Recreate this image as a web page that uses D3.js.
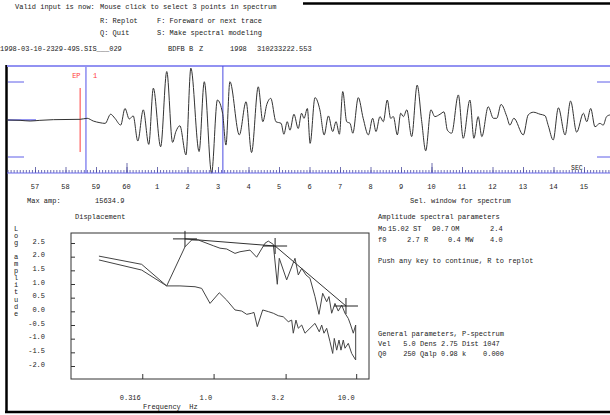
<!DOCTYPE html>
<html><head><meta charset="utf-8">
<script src="https://cdn.jsdelivr.net/npm/d3@7"></script>
<style>
html,body{margin:0;padding:0;background:#fff;}
svg{display:block;}
text{font-family:"Liberation Mono","DejaVu Sans Mono",monospace;font-size:7px;fill:#222;white-space:pre;}
</style></head><body>
<svg id="c" width="610" height="415"></svg>
<script>
// ---------------- data ----------------
const secondTimes  = [-3,-2,-1,0,1,2,3,4,5,6,7,8,9,10,11,12,13,14,15];
const secondLabels = ["57","58","59","60","1","2","3","4","5","6","7","8","9","10","11","12","13","14","15"];

const traceTime = [-3.93,-3.49,-3.16,-2.84,-2.40,-1.52,-1.29,-1.09,-0.87,-0.70,-0.52,-0.38,-0.19,-0.05,0.09,0.22,0.37,0.55,0.73,0.88,
 1.12,1.32,1.51,1.62,1.75,1.95,2.11,2.38,2.55,2.79,2.98,3.15,3.26,3.39,3.70,3.92,4.10,4.32,4.47,4.60,
 4.73,4.90,5.07,5.16,5.27,5.36,5.49,5.63,5.74,5.82,5.93,6.02,6.18,6.34,6.48,6.62,6.76,6.87,6.98,7.09,
 7.22,7.33,7.42,7.60,7.76,7.93,8.07,8.18,8.31,8.42,8.55,8.66,8.75,8.88,8.99,9.08,9.19,9.35,9.53,9.68,
 9.81,9.98,10.11,10.28,10.41,10.52,10.66,10.88,11.04,11.26,11.39,11.53,11.65,11.86,12.03,12.14,12.28,12.47,12.57,12.70,
 13.01,13.17,13.34,13.56,13.72,13.83,13.99,14.16,14.38,14.56,14.76,14.98,15.09,15.22,15.36,15.52,15.63,15.74,15.85];
// amplitude in thousands of counts
const traceAmp = [0,-0.1,-0.3,-0.1,0.1,0.2,0.5,-0.3,-0.8,-1.0,1.7,0.5,-1.5,3.4,0.3,1.2,-6.2,3.0,-7.2,9.4,
 -7.9,14.3,-6.6,-3.4,-1.7,-10.3,15.3,-9.3,11.3,-15.7,5.9,2.0,-7.4,11.3,-4.4,5.4,-9.6,9.8,-0.5,4.6,
 6.4,-0.5,-1.0,-4.2,-0.5,-3.0,1.7,-2.5,2.0,0.5,3.4,-6.9,6.6,3.0,-4.4,1.2,-3.4,-0.5,-4.2,8.4,
 -0.5,-1.0,-3.9,6.6,0.5,-4.4,0.5,-3.4,1.0,-0.5,5.9,0.5,1.0,-4.4,2.0,1.0,3.0,-4.9,10.3,-0.5,
 -9.1,3.0,1.0,1.7,2.4,-3.0,-3.9,7.4,-5.4,5.9,-5.4,1.0,-4.9,3.9,0.5,0.5,4.6,1.0,-1.5,0.5,
 -4.4,1.5,2.3,1.7,1.3,-1.7,-5.9,3.6,-4.4,5.6,-3.6,2.0,-0.5,3.4,-2.0,-1.0,-1.5,1.0,1.5];
const maxAmp = 15634.9;
const pickTime = -1.52, windowStart = -1.33, windowEnd = 3.16;

const freqTicks = [0.316, 1.0, 3.2, 10.0];
const freqTickLabels = ["0.316","1.0","3.2","10.0"];
const logAmpTicks = [2.5,2.0,1.5,1.0,0.5,0.0,-0.5,-1.0,-1.5,-2.0];
const logAmpTickLabels = ["2.5","2.0","1.5","1.0","0.5","0.0","-0.5","-1.0","-1.5","-2.0"];

const signalFreq = [0.157,0.313,0.469,0.630,0.702,0.781,0.995,1.109,1.236,1.413,1.531,1.800,2.005,2.293,2.418,2.623,2.797,2.888,3.255,3.723,
 3.926,4.148,4.446,4.742,5.142,5.484,5.822,6.210,6.446,6.732,7.101,7.491,7.913,8.347,8.803,9.150,9.544,9.920,9.920];
const signalLogAmp = [2.02,1.72,0.93,2.36,2.61,2.61,2.40,2.31,2.28,2.12,2.18,2.24,1.98,2.49,2.57,2.45,0.99,1.94,1.15,1.94,
 1.33,1.57,1.33,1.21,0.54,-0.11,0.66,0.35,0.54,-0.07,0.29,0.01,0.23,-0.07,-0.26,-0.50,-0.80,-0.50,-1.78];
const noiseFreq = [0.157,0.313,0.469,0.581,0.741,0.825,0.944,1.096,1.236,1.413,1.574,1.707,1.850,1.920,2.025,2.210,2.418,2.623,2.842,3.082,
 3.341,3.529,3.622,3.782,3.926,4.148,4.375,4.742,5.142,5.511,5.729,5.945,6.210,6.551,6.843,7.022,7.300,7.576,7.824,8.121,
 8.347,8.803,9.298,9.920];
const noiseLogAmp = [1.88,1.51,0.93,0.93,0.90,0.84,0.29,0.68,0.41,0.05,0.01,-0.11,-0.07,-0.04,-0.56,0.05,-0.01,-0.07,-0.16,-0.20,
 -0.38,-0.32,-0.80,-0.32,-0.62,-0.50,-0.80,-0.62,-0.44,-0.75,-0.50,-0.80,-0.62,-1.11,-1.54,-0.99,-1.42,-1.05,-1.42,-1.05,
 -1.35,-1.17,-1.54,-1.78];
const pickFreq = [0.63, 2.7, 8.48];
const pickLogAmp = [2.65, 2.39, 0.195];

// ---------------- drawing ----------------
const svg = d3.select("#c");
svg.append("rect").attr("width",610).attr("height",415).attr("fill","#fff");

function txt(x,y,s,opt={}){
  const t = svg.append("text").attr("x",x).attr("y",y).text(s);
  if(opt.anchor) t.attr("text-anchor",opt.anchor);
  if(opt.fill) t.style("fill",opt.fill);
  if(opt.size) t.style("font-size",opt.size+"px");
  return t;
}

// frame
svg.append("line").attr("x1",303).attr("x2",610).attr("y1",3.5).attr("y2",3.5).attr("stroke","#000").attr("stroke-width",2.5);
svg.append("line").attr("x1",6.5).attr("x2",6.5).attr("y1",65).attr("y2",413).attr("stroke","#000").attr("stroke-width",2.5);
svg.append("line").attr("x1",5).attr("x2",610).attr("y1",412).attr("y2",412).attr("stroke","#000").attr("stroke-width",2.5);

// header text
txt(15,9,"Valid input is now:");
txt(100,9,"Mouse click to select 3 points in spectrum");
txt(100,23,"R: Replot");  txt(157,23,"F: Foreward or next trace");
txt(100,35,"Q: Quit");    txt(157,35,"S: Make spectral modeling");
txt(0,51,"1998-03-10-2329-49S.SIS___029");
txt(168,51,"BDFB"); txt(189,51,"B"); txt(199,51,"Z");
txt(230,51,"1998"); txt(257,51,"310233222.553");

// ---- waveform panel ----
const xT = d3.scaleLinear().domain([-3,15]).range([35,584]);
const yA = d3.scaleLinear().domain([-16,16]).range([174.2,65.8]);

svg.append("line").attr("x1",7).attr("x2",610).attr("y1",66).attr("y2",66).attr("stroke","#9292f2").attr("stroke-width",2);
// level markers
[[82,24],[157,24]].forEach(([y,w])=>{
  svg.append("line").attr("x1",8).attr("x2",w).attr("y1",y).attr("y2",y).attr("stroke","#5f5fe8").attr("stroke-width",1);
  svg.append("line").attr("x1",597).attr("x2",610).attr("y1",y).attr("y2",y).attr("stroke","#5f5fe8").attr("stroke-width",1);
});
svg.append("line").attr("x1",8).attr("x2",36).attr("y1",yA(0)).attr("y2",yA(0)).attr("stroke","#7070ec").attr("stroke-width",1.5);

// selection window lines
svg.append("line").attr("x1",xT(windowStart)).attr("x2",xT(windowStart)).attr("y1",66).attr("y2",173).attr("stroke","#9292f2").attr("stroke-width",1.6);
svg.append("line").attr("x1",xT(windowEnd)).attr("x2",xT(windowEnd)).attr("y1",66).attr("y2",173).attr("stroke","#4a4ae0").attr("stroke-width",1);
// pick
svg.append("line").attr("x1",xT(pickTime)).attr("x2",xT(pickTime)).attr("y1",88).attr("y2",152).attr("stroke","#ff3b3b").attr("stroke-width",1);
txt(xT(pickTime)-8,78,"EP",{fill:"#ff3b3b"});
txt(xT(windowStart)+7,78,"1",{fill:"#ff3b3b"});

// trace
const trace = d3.line().curve(d3.curveMonotoneX).x((d,i)=>xT(traceTime[i])).y((d,i)=>yA(traceAmp[i]));
svg.append("path").attr("d",trace(traceTime)).attr("fill","none").attr("stroke","#333").attr("stroke-width",1);

// time axis
const axisY = 173;
const minor = d3.range(-39,159).map(i=>i/10);
const gMinor = svg.append("g").attr("transform",`translate(0,${axisY})`)
  .call(d3.axisTop(xT).tickValues(minor).tickSize(3).tickFormat(""));
gMinor.select(".domain").remove();
gMinor.selectAll("line").attr("stroke","#4a4a9a").attr("stroke-width",0.8);
const gMajor = svg.append("g").attr("transform",`translate(0,${axisY})`)
  .call(d3.axisTop(xT).tickValues(secondTimes).tickSize(6).tickFormat(""));
gMajor.select(".domain").remove();
gMajor.selectAll("line").attr("stroke","#4a4a9a").attr("stroke-width",0.8);
const gTall = svg.append("g").attr("transform",`translate(0,${axisY})`)
  .call(d3.axisTop(xT).tickValues([0,10]).tickSize(10).tickFormat(""));
gTall.select(".domain").remove();
gTall.selectAll("line").attr("stroke","#4a4a9a").attr("stroke-width",0.8);
svg.append("line").attr("x1",7).attr("x2",610).attr("y1",axisY).attr("y2",axisY).attr("stroke","#6a6aee").attr("stroke-width",1.2);
txt(571,169.5,"SEC",{size:6.5});
secondTimes.forEach((t,i)=>txt(xT(t),189,secondLabels[i],{anchor:"middle"}));

txt(27,203,"Max amp:");
txt(95,203,d3.format(".1f")(maxAmp));
txt(410,203,"Sel. window for spectrum");
txt(75,219,"Displacement");

// ---- spectrum panel ----
const xS = d3.scaleLog().domain([0.1,12.3]).range([71,369]);
const yS = d3.scaleLinear().domain([-2.0,2.5]).range([366,243]);
const boxTop = 233, boxBot = 379;
svg.append("rect").attr("x",71).attr("y",boxTop).attr("width",298).attr("height",boxBot-boxTop)
  .attr("fill","none").attr("stroke","#333").attr("stroke-width",1);

const gy = svg.append("g").attr("transform","translate(71,0)")
  .call(d3.axisLeft(yS).tickValues(logAmpTicks).tickSize(-4).tickPadding(26).tickFormat((d,i)=>logAmpTickLabels[i]));
gy.select(".domain").remove();
gy.selectAll("line").attr("stroke","#333");
gy.selectAll("text").attr("dy","0");

const gx = svg.append("g").attr("transform",`translate(0,${boxBot})`)
  .call(d3.axisBottom(xS).tickValues(freqTicks).tickSize(-5).tickPadding(16).tickFormat((d,i)=>freqTickLabels[i]));
gx.select(".domain").remove();
gx.selectAll("line").attr("stroke","#333");
gx.selectAll("text").attr("text-anchor","end").attr("dx","-2");

txt(143,408.5,"Frequency  Hz");
"Log amplitude".split("").forEach((c,i)=>{ if(c!==" ") txt(16,230.5+i*7.1,c,{anchor:"middle"}); });

const specLine = (fs,as)=> d3.line().x((d,i)=>xS(fs[i])).y((d,i)=>yS(as[i]))(fs);
svg.append("path").attr("d",specLine(noiseFreq,noiseLogAmp)).attr("fill","none").attr("stroke","#444").attr("stroke-width",1);
svg.append("path").attr("d",specLine(signalFreq,signalLogAmp)).attr("fill","none").attr("stroke","#444").attr("stroke-width",1);
svg.append("path").attr("d",specLine(pickFreq,pickLogAmp)).attr("fill","none").attr("stroke","#333").attr("stroke-width",1);
pickFreq.forEach((f,i)=>{
  const x = xS(f), y = yS(pickLogAmp[i]);
  svg.append("path").attr("d",`M${x-12},${y}H${x+12}M${x},${y-8}V${y+8}`).attr("stroke","#222").attr("stroke-width",1).attr("fill","none");
});

// right text block
txt(378,219,"Amplitude spectral parameters");
txt(378,231,"Mo"); txt(388,231,"15.02"); txt(413,231,"ST"); txt(432,231,"90.7"); txt(451,231,"OM"); txt(490,231,"2.4");
txt(378,242,"f0"); txt(407,242,"2.7");   txt(424,242,"R");  txt(448,242,"0.4");  txt(465,242,"MW"); txt(490,242,"4.0");
txt(378,263,"Push any key to continue, R to replot");
txt(378,336,"General parameters, P-spectrum");
txt(378,346,"Vel   5.0 Dens 2.75 Dist 1047");
txt(378,356,"Q0    250 Qalp 0.98 k    0.000");
</script>
</body></html>
